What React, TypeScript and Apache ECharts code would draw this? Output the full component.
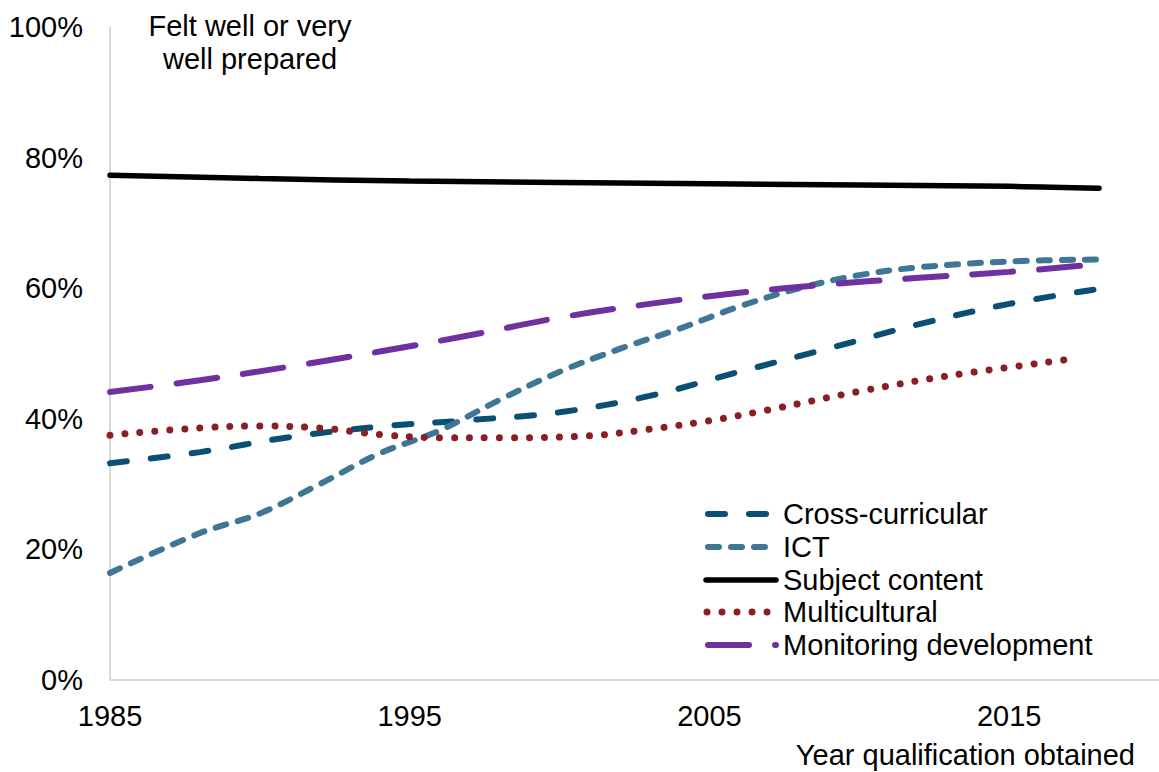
import React, { useEffect, useRef } from "react";
import * as echarts from "echarts";

const seriesNames = ["Cross-curricular", "ICT", "Subject content", "Multicultural", "Monitoring development"];

const crossYears = [1985, 1988, 1991, 1994, 1997, 2000, 2003, 2006, 2009, 2012, 2015, 2018];
const crossValues = [33.2, 34.9, 37.2, 38.8, 39.8, 41.0, 43.5, 47.2, 50.8, 54.5, 57.6, 59.9];

const ictYears = [1985, 1988, 1990, 1992, 1994, 1996, 1998, 2000, 2002, 2004, 2006, 2008, 2010, 2012, 2015, 2018];
const ictValues = [16.4, 22.5, 25.5, 30.0, 34.7, 38.2, 42.9, 47.2, 50.7, 53.8, 57.2, 60.0, 62.0, 63.2, 64.1, 64.4];

const subjectYears = [1985, 1990, 1995, 2005, 2015, 2018];
const subjectValues = [77.3, 76.8, 76.4, 76.0, 75.6, 75.3];

const multiYears = [1985, 1988, 1990, 1992, 1994, 1996, 1998, 2001, 2003, 2005, 2007, 2010, 2013, 2017];
const multiValues = [37.5, 38.6, 38.9, 38.6, 37.6, 37.1, 37.1, 37.4, 38.4, 39.7, 41.4, 44.2, 46.6, 49.1];

const monYears = [1985, 1988, 1991, 1994, 1997, 2000, 2003, 2006, 2009, 2012, 2015, 2018];
const monValues = [44.1, 45.9, 48.0, 50.3, 52.8, 55.5, 57.6, 59.3, 60.6, 61.6, 62.5, 63.7];

const xTickLabels = [1985, 1995, 2005, 2015];
const yTicks = [0, 20, 40, 60, 80, 100];

const pair = (xs: number[], ys: number[]) => xs.map((x, i) => [x, ys[i]]);

const FONT = "'Liberation Sans', Arial, sans-serif";
const FS = 29;

export default function App() {
  const ref = useRef<HTMLDivElement>(null);
  useEffect(() => {
    if (!ref.current) return;
    const chart = echarts.init(ref.current, null, { renderer: "svg" });

    const styles = [
      { color: "#0b4f75", width: 6, dash: [17, 24], x1: 708, x2: 767 },
      { color: "#3f7696", width: 6, dash: [11, 12], x1: 708, x2: 767 },
      { color: "#000000", width: 5.5, dash: null as any, x1: 706, x2: 776 },
      { color: "#8b1e24", width: 7, dash: [0.01, 15], x1: 707, x2: 768 },
      { color: "#7030a0", width: 6, dash: [41, 26], x1: 708, x2: 776 },
    ];
    const rowY = [514, 547, 580, 612, 645];

    const mk = (i: number, data: number[][]) => ({
      name: seriesNames[i],
      type: "line",
      data,
      smooth: 0.35,
      symbol: "none",
      lineStyle: {
        color: styles[i].color,
        width: styles[i].width,
        type: styles[i].dash ? styles[i].dash : "solid",
        cap: "round",
      },
      itemStyle: { color: styles[i].color },
    });

    const legendGraphics: any[] = [];
    seriesNames.forEach((name, i) => {
      const s = styles[i];
      legendGraphics.push({
        type: "polyline",
        shape: { points: [[s.x1, rowY[i]], [s.x2, rowY[i]]] },
        style: {
          stroke: s.color,
          lineWidth: s.width,
          lineDash: s.dash || undefined,
          lineCap: "round",
          fill: null,
        },
      });
      legendGraphics.push({
        type: "text",
        x: 783,
        y: rowY[i],
        style: {
          text: name,
          font: `${FS}px ${FONT}`,
          fill: "#000",
          textAlign: "left",
          textVerticalAlign: "middle",
        },
      });
    });

    chart.setOption({
      animation: false,
      textStyle: { fontFamily: FONT },
      grid: { left: 110, right: 0, top: 27, bottom: 92 },
      xAxis: {
        type: "value",
        min: 1985,
        max: 2020,
        interval: 5,
        axisLine: { show: true, lineStyle: { color: "#d9d9d9", width: 2 } },
        axisTick: { show: false },
        splitLine: { show: false },
        axisLabel: {
          fontSize: FS,
          color: "#000",
          margin: 21,
          fontFamily: FONT,
          showMaxLabel: false,
          formatter: (v: number) => (xTickLabels.indexOf(v) >= 0 ? String(v) : ""),
        },
      },
      yAxis: {
        type: "value",
        min: 0,
        max: 100,
        interval: 20,
        axisLine: { show: true, lineStyle: { color: "#d9d9d9", width: 2 } },
        axisTick: { show: false },
        splitLine: { show: false },
        axisLabel: {
          fontSize: FS,
          color: "#000",
          margin: 27,
          fontFamily: FONT,
          formatter: (v: number) => (yTicks.indexOf(v) >= 0 ? v + "%" : ""),
        },
      },
      graphic: [
        {
          type: "text",
          x: 250,
          y: 9,
          style: {
            text: "Felt well or very\nwell prepared",
            font: `${FS}px ${FONT}`,
            fill: "#000",
            textAlign: "center",
            textVerticalAlign: "top",
            lineHeight: 33,
          },
        },
        {
          type: "text",
          x: 1135,
          y: 755,
          style: {
            text: "Year qualification obtained",
            font: `${FS}px ${FONT}`,
            fill: "#000",
            textAlign: "right",
            textVerticalAlign: "middle",
          },
        },
        ...legendGraphics,
      ],
      series: [
        mk(0, pair(crossYears, crossValues)),
        mk(1, pair(ictYears, ictValues)),
        mk(2, pair(subjectYears, subjectValues)),
        mk(3, pair(multiYears, multiValues)),
        mk(4, pair(monYears, monValues)),
      ],
    });
    return () => chart.dispose();
  }, []);
  return (
    <div
      ref={ref}
      style={{ position: "fixed", left: 0, top: 0, width: 1159, height: 772, background: "#fff" }}
    />
  );
}
